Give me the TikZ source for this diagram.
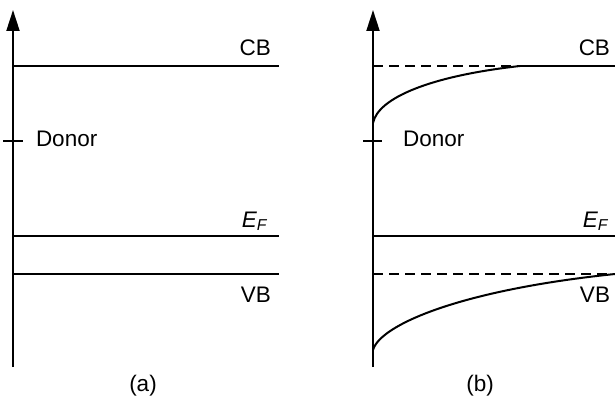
\documentclass[tikz,border=0pt]{standalone}
\usepackage{fontspec}
\setmainfont{Liberation Sans}
\usetikzlibrary{arrows.meta}
\begin{document}
\begin{tikzpicture}[x=1pt,y=-1pt,
  line width=2pt,
  lbl/.style={inner sep=0pt,font=\fontsize{22.5}{26}\selectfont},
  axisline/.style={-{Triangle[length=21pt,width=13pt]}},
  dashline/.style={dash pattern=on 10pt off 6pt}]
\useasboundingbox (0,0) rectangle (615,396);
% ---------- panel (a)
\coordinate (a0) at (13,367);
\coordinate (a1) at (13,10);
\draw[axisline] (a0) -- (a1);
\coordinate (aCBl) at (13,66); \coordinate (aCBr) at (279,66);
\draw (aCBl) -- (aCBr);
\coordinate (aDl) at (3,141); \coordinate (aDr) at (23,141);
\draw (aDl) -- (aDr);
\coordinate (aEl) at (13,236); \coordinate (aEr) at (279,236);
\draw (aEl) -- (aEr);
\coordinate (aVl) at (13,274); \coordinate (aVr) at (279,274);
\draw (aVl) -- (aVr);
\node[lbl,anchor=base east] (aCB) at (272,56) {CB};
\node[lbl,anchor=base west] (aDon) at (35,146) {Donor};
\node[lbl,anchor=base east] (aEF) at (268,227) {\textit{E\textsubscript{F}}};
\node[lbl,anchor=base east] (aVB) at (272,302) {VB};
\node[lbl,anchor=base] (acap) at (143,391) {(a)};
% ---------- panel (b)
\coordinate (b0) at (373,367);
\coordinate (b1) at (373,10);
\draw[axisline] (b0) -- (b1);
\coordinate (bCBl) at (373,66); \coordinate (bCBm) at (520,66); \coordinate (bCBr) at (615,66);
\draw[dashline] (bCBl) -- (bCBm);
\draw (bCBm) -- (bCBr);
\coordinate (bCs) at (373,123);
\draw (bCs) .. controls (378,98) and (430,76) .. (bCBm);
\coordinate (bDl) at (363,141); \coordinate (bDr) at (382,141);
\draw (bDl) -- (bDr);
\coordinate (bEl) at (373,236); \coordinate (bEr) at (615,236);
\draw (bEl) -- (bEr);
\coordinate (bVl) at (373,274); \coordinate (bVr) at (615,274);
\draw[dashline] (bVl) -- (bVr);
\coordinate (bVs) at (373,350);
\draw (bVs) .. controls (380,325) and (460,290) .. (bVr);
\node[lbl,anchor=base east] (bCB) at (611,56) {CB};
\node[lbl,anchor=base west] (bDon) at (402,146) {Donor};
\node[lbl,anchor=base east] (bEF) at (609,227) {\textit{E\textsubscript{F}}};
\node[lbl,anchor=base east] (bVB) at (611,302) {VB};
\node[lbl,anchor=base] (bcap) at (480,391) {(b)};
\end{tikzpicture}
\end{document}
